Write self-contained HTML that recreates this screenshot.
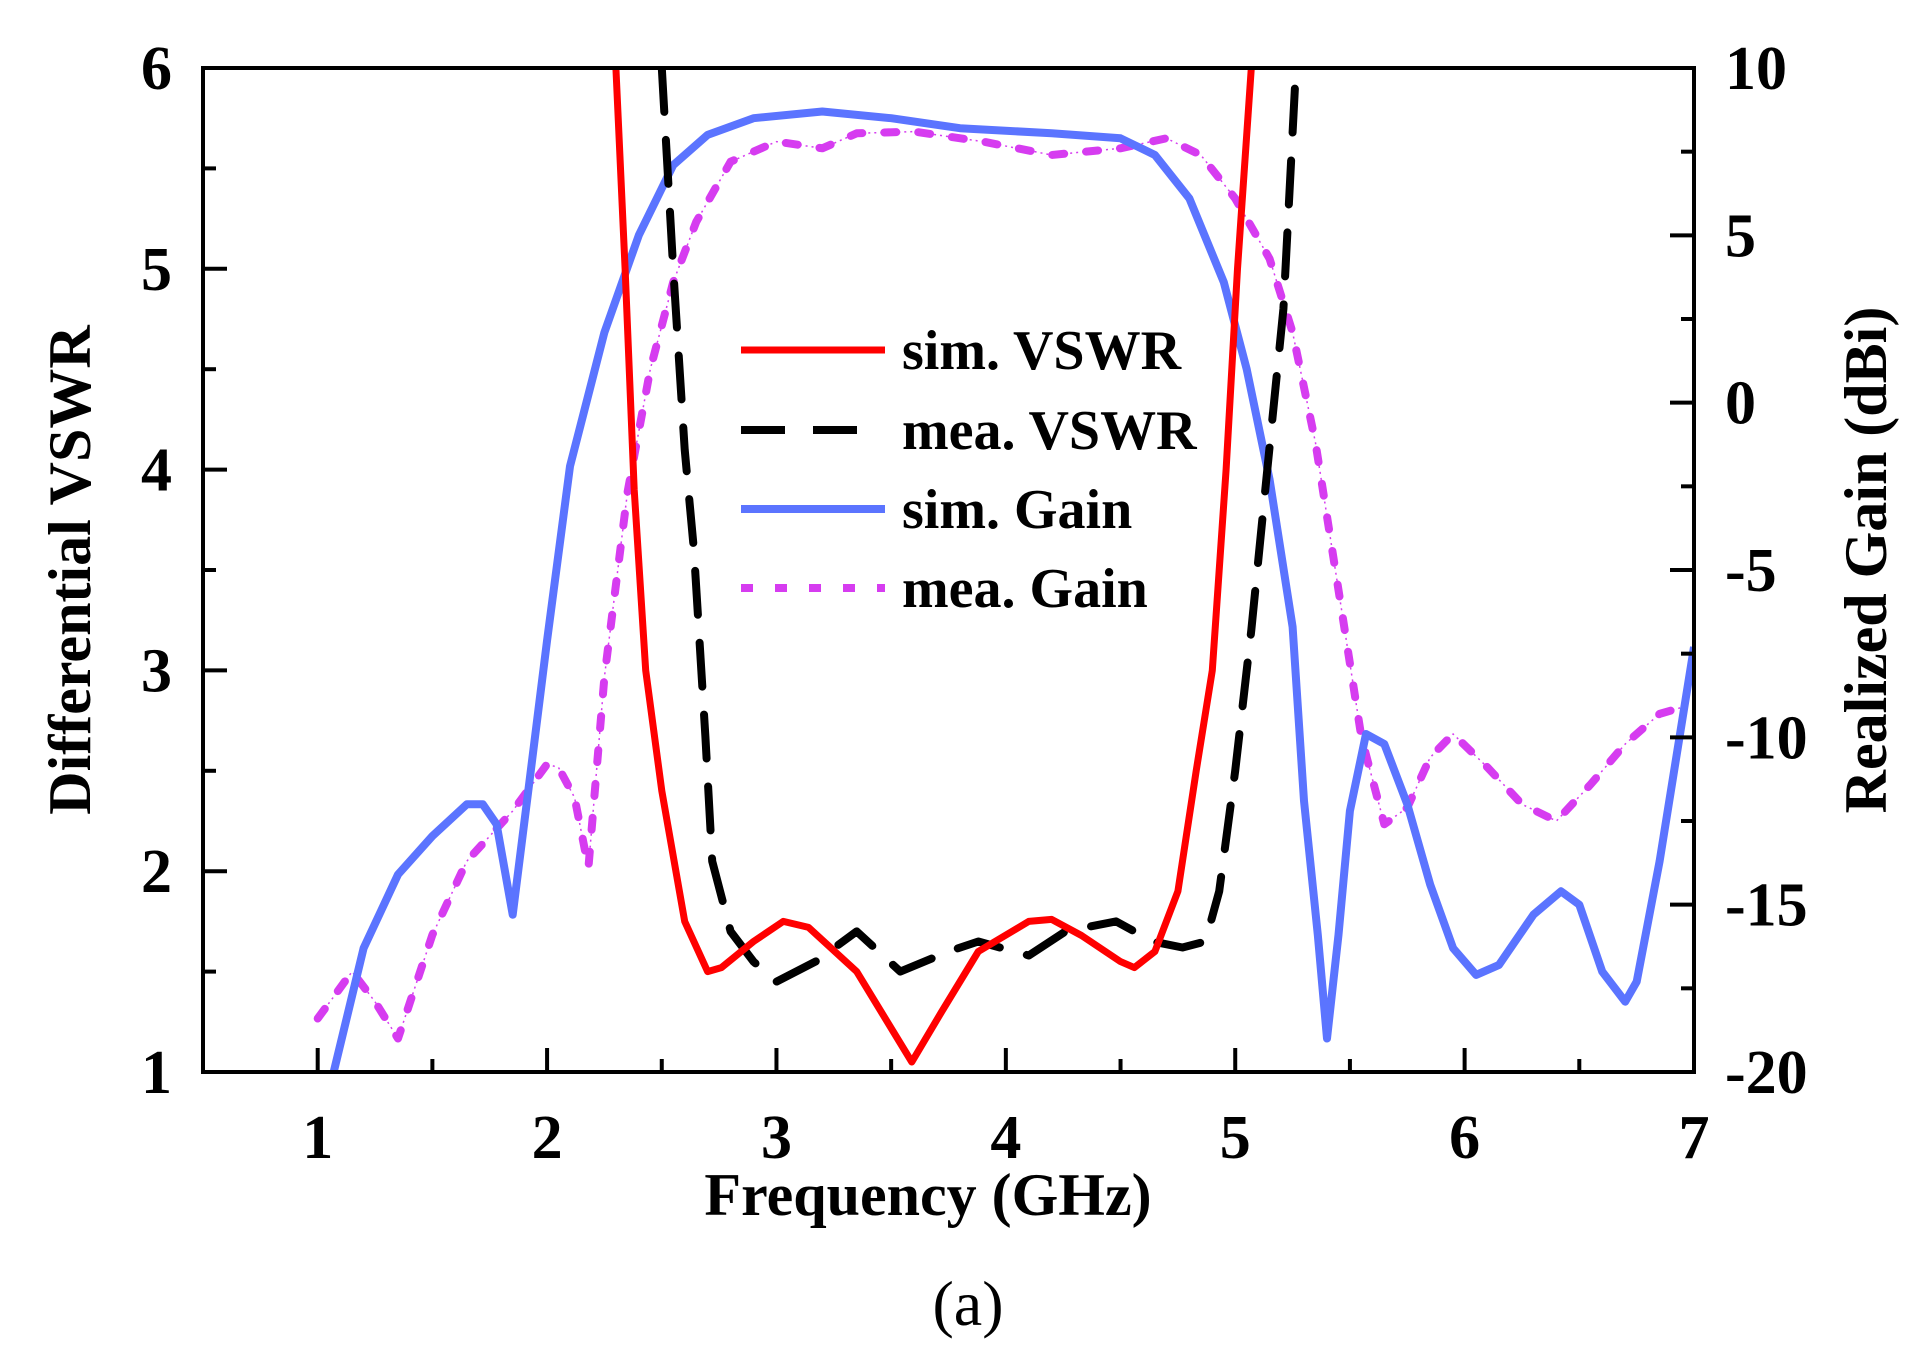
<!DOCTYPE html>
<html><head><meta charset="utf-8"><style>
html,body{margin:0;padding:0;background:#fff;}
svg{display:block;font-family:"Liberation Serif",serif;font-weight:bold;}
</style></head><body>
<svg id="chart" width="1917" height="1368" viewBox="0 0 1917 1368" xmlns="http://www.w3.org/2000/svg">
<g id="series"></g>
<g id="axes"></g>
<g id="legend"></g>
</svg>
<script>
const xTicks=[1,2,3,4,5,6,7];
const vswrTicks=[1,2,3,4,5,6];
const gainTicks=[-20,-15,-10,-5,0,5,10];
const simVswrF=[2.30,2.34,2.38,2.43,2.5,2.6,2.7,2.76,2.9,3.03,3.14,3.35,3.59,3.72,3.88,4.1,4.2,4.33,4.5,4.56,4.65,4.75,4.83,4.9,4.96,5.01,5.07];
const simVswrV=[6,5,3.9,3.0,2.4,1.75,1.5,1.52,1.65,1.75,1.72,1.5,1.05,1.3,1.6,1.75,1.76,1.68,1.55,1.52,1.6,1.9,2.5,3.0,4.0,5.0,6.0];
const meaVswrF=[2.5,2.55,2.6,2.64,2.69,2.72,2.8,2.9,3.0,3.17,3.35,3.54,3.75,3.88,4.1,4.26,4.48,4.64,4.77,4.87,4.93,5.0,5.07,5.14,5.21,5.26];
const meaVswrV=[6,5,4.1,3.6,2.67,2.05,1.7,1.55,1.45,1.55,1.7,1.5,1.6,1.65,1.58,1.7,1.75,1.65,1.62,1.65,1.9,2.5,3.2,4.0,4.8,5.9];
const simGainF=[1.07,1.2,1.35,1.5,1.65,1.72,1.78,1.85,1.92,2.0,2.1,2.25,2.4,2.55,2.7,2.9,3.2,3.5,3.8,4.2,4.5,4.65,4.8,4.95,5.05,5.15,5.25,5.3,5.36,5.4,5.45,5.5,5.57,5.65,5.75,5.85,5.95,6.05,6.15,6.3,6.42,6.5,6.6,6.7,6.75,6.85,7.0];
const simGainV=[-20,-16.3,-14.1,-12.95,-12,-12,-12.6,-15.3,-11.5,-7.1,-1.9,2.1,5.0,7.1,8.0,8.5,8.7,8.5,8.2,8.05,7.9,7.4,6.1,3.6,1.0,-2.3,-6.7,-11.9,-15.9,-19,-15.9,-12.2,-9.9,-10.2,-12.0,-14.4,-16.3,-17.1,-16.8,-15.3,-14.6,-15.0,-17.0,-17.9,-17.3,-13.7,-7.3];
const meaGainF=[1.0,1.15,1.25,1.35,1.5,1.65,1.85,2.0,2.05,2.12,2.18,2.25,2.35,2.45,2.55,2.65,2.8,3.0,3.2,3.35,3.6,3.9,4.2,4.5,4.7,4.85,5.0,5.15,5.25,5.35,5.45,5.55,5.65,5.75,5.85,5.95,6.1,6.25,6.4,6.55,6.7,6.85,6.95];
const meaGainV=[-18.4,-17,-17.9,-19,-15.9,-13.7,-12.2,-10.8,-10.9,-11.8,-13.9,-8.2,-2.7,1.0,3.6,5.4,7.2,7.8,7.6,8.05,8.1,7.8,7.4,7.6,7.9,7.4,6.1,4.3,2.1,-1.2,-5.6,-10,-12.6,-12.1,-10.6,-9.9,-10.9,-12,-12.5,-11.4,-10.2,-9.3,-9.1];

const L=203,R=1694,T=68,B=1072;
const xs=f=>L+(f-0.5)/(6.5)*(R-L);
const yv=v=>B-(v-1)/5*(B-T);
const yg=g=>B-(g+20)/30*(B-T);
const NS="http://www.w3.org/2000/svg";
function mk(tag,parent,attrs){const e=document.createElementNS(NS,tag);for(const k in attrs)e.setAttribute(k,attrs[k]);parent.appendChild(e);return e;}
const gS=document.getElementById('series'),gA=document.getElementById('axes'),gL=document.getElementById('legend');
const defs=mk('defs',document.getElementById('chart'),{});
const cp=mk('clipPath',defs,{id:'clip'});mk('rect',cp,{x:L,y:T,width:R-L,height:B-T});
gS.setAttribute('clip-path','url(#clip)');
function pts(F,V,ys){return F.map((f,i)=>xs(f).toFixed(1)+','+ys(V[i]).toFixed(1)).join(' ');}
let p;
p=mk('polyline',gS,{points:pts(meaGainF,meaGainV,yg),fill:'none',stroke:'#d63cf0','stroke-width':1.5,'stroke-dasharray':'2 4'});

p=mk('polyline',gS,{points:pts(meaGainF,meaGainV,yg),fill:'none',stroke:'#d63cf0','stroke-width':8,'stroke-dasharray':'12 22','stroke-linecap':'round','stroke-linejoin':'round'});

p=mk('polyline',gS,{points:pts(simGainF,simGainV,yg),fill:'none',stroke:'#5b74ff','stroke-width':8,'stroke-linejoin':'round'});

p=mk('polyline',gS,{points:pts(meaVswrF,meaVswrV,yv),fill:'none',stroke:'#000','stroke-width':8,'stroke-dasharray':'44 28','stroke-linecap':'round','stroke-linejoin':'round'});

p=mk('polyline',gS,{points:pts(simVswrF,simVswrV,yv),fill:'none',stroke:'#ff0000','stroke-width':7,'stroke-linejoin':'round'});


p=mk('rect',gA,{x:L,y:T,width:R-L,height:B-T,fill:'none',stroke:'#000','stroke-width':4});

for(let f=0.5;f<=7.01;f+=0.5){const maj=Math.abs(f-Math.round(f))<0.01;const x=xs(f);
 mk('line',gA,{x1:x,y1:B,x2:x,y2:B-(maj?24:13),stroke:'#000','stroke-width':4});}
xTicks.forEach(f=>{const t=mk('text',gA,{x:xs(f),y:1158,'font-size':62,'text-anchor':'middle'});t.textContent=f;
 });
for(let v=1;v<=6.01;v+=0.5){const maj=Math.abs(v-Math.round(v))<0.01;const y=yv(v);
 mk('line',gA,{x1:L,y1:y,x2:L+(maj?24:13),y2:y,stroke:'#000','stroke-width':4});}
vswrTicks.forEach(v=>{const t=mk('text',gA,{x:172,y:yv(v)+21,'font-size':62,'text-anchor':'end'});t.textContent=v;
 });
for(let g=-20;g<=10.01;g+=2.5){const maj=Math.abs(g/5-Math.round(g/5))<0.01;const y=yg(g);
 mk('line',gA,{x1:R,y1:y,x2:R-(maj?24:13),y2:y,stroke:'#000','stroke-width':4});}
gainTicks.forEach(g=>{const t=mk('text',gA,{x:1725,y:yg(g)+21,'font-size':62,'text-anchor':'start'});t.textContent=g;
 });
let t;
t=mk('text',gA,{x:928,y:1215,'font-size':60,'text-anchor':'middle'});t.textContent='Frequency (GHz)';

t=mk('text',gA,{x:0,y:0,'font-size':60,'text-anchor':'middle',transform:'translate(90,570) rotate(-90)'});t.textContent='Differential VSWR';

t=mk('text',gA,{x:0,y:0,'font-size':60,'text-anchor':'middle',transform:'translate(1886,560) rotate(-90)'});t.textContent='Realized Gain (dBi)';

t=mk('text',gA,{x:968,y:1325,'font-size':64,'font-weight':'normal','text-anchor':'middle'});t.textContent='(a)';

const lg=[['sim. VSWR','#ff0000',7,'none'],['mea. VSWR','#000',8,'44 28'],[' sim. Gain','#5b74ff',8,'none'],['mea. Gain','#d63cf0',8,'12 22']];
const ly=[350,430,509,588];
lg.forEach((e,i)=>{const ln=mk('line',gL,{x1:741,y1:ly[i],x2:885,y2:ly[i],stroke:e[1],'stroke-width':e[2],'stroke-dasharray':e[3]});
 
 const tx=mk('text',gL,{x:902,y:ly[i]+19,'font-size':56,'xml:space':'preserve'});tx.textContent=e[0];
 });
</script>
</body></html>
